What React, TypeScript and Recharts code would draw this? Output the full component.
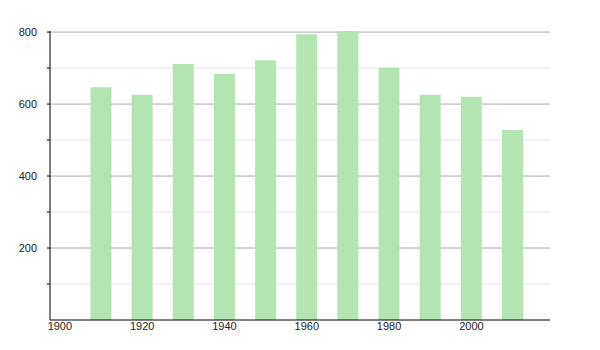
import React from 'react';
import { BarChart, Bar, XAxis, YAxis, CartesianGrid } from 'recharts';

// années et population
const years = [1910, 1920, 1930, 1940, 1950, 1960, 1970, 1980, 1990, 2000, 2010];
const population = [647, 626, 711, 684, 722, 794, 803, 701, 626, 620, 528];

const xTicks = [1900, 1920, 1940, 1960, 1980, 2000];
const yTicks = [100, 200, 300, 400, 500, 600, 700, 800];
const majorGrid = [200, 400, 600, 800];
const minorGrid = [100, 300, 500, 700];

const data = years.map((year, i) => ({ year, value: population[i] }));

const font = { fontSize: 11, fill: '#222', fontFamily: '"Liberation Sans", Arial, sans-serif' };

const App: React.FC = () => {
  return (
    <div style={{ position: 'absolute', left: 0, top: 0, background: '#fff' }}>
      <BarChart width={600} height={350} data={data} margin={{ top: 31, right: 50, bottom: 10, left: 0 }}>
        <CartesianGrid vertical={false} horizontalValues={minorGrid} stroke="#e6e6e6" />
        <CartesianGrid vertical={false} horizontalValues={majorGrid} stroke="#aaaaaa" />
        <XAxis
          dataKey="year"
          type="number"
          domain={[1897.6, 2019.1]}
          ticks={xTicks}
          height={20}
          tickLine={false}
          axisLine={{ stroke: '#000' }}
          tick={font}
          tickMargin={2}
          tickSize={0}
        />
        <YAxis
          type="number"
          domain={[0, 800]}
          ticks={yTicks}
          width={50}
          interval={0}
          axisLine={{ stroke: '#000' }}
          tickLine={{ stroke: '#000' }}
          tickSize={3}
          tickMargin={10}
          tick={font}
          tickFormatter={(v: number) => (v % 200 === 0 ? String(v) : '')}
        />
        <Bar dataKey="value" fill="#b3e5b3" barSize={21} isAnimationActive={false} />
      </BarChart>
    </div>
  );
};

export default App;
